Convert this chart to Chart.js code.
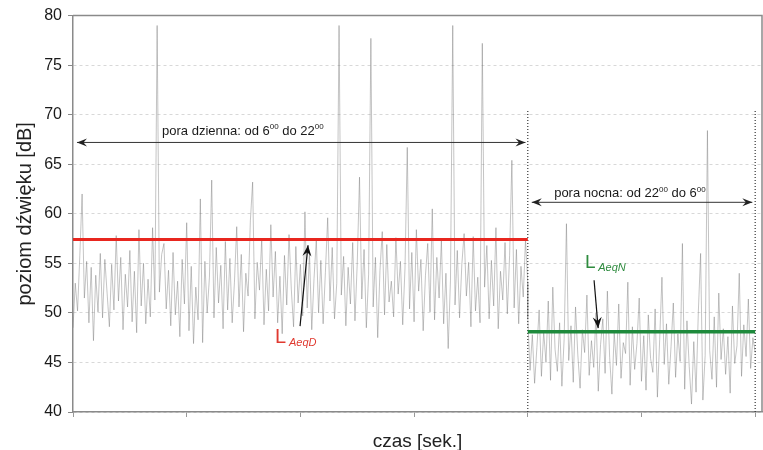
<!DOCTYPE html>
<html>
<head>
<meta charset="utf-8">
<script src="https://cdn.jsdelivr.net/npm/chart.js@4"></script>
<style>
html,body{margin:0;padding:0;background:#fff;}
#wrap{width:763px;height:450px;position:relative;}
</style>
</head>
<body>
<div id="wrap"><canvas id="c"></canvas></div>
<script>
// ---- data (dB) ----
const dayLevels = [
48.5,53.0,50.2,55.8,62.0,51.5,55.2,49.0,54.6,47.2,53.8,50.1,56.0,49.5,55.4,52.0,48.6,54.9,50.3,57.8,
51.2,55.6,48.3,53.9,50.6,56.3,49.1,54.2,48.0,58.4,50.7,55.0,48.9,53.4,49.6,58.6,51.3,79.0,52.1,55.9,
57.0,50.4,54.3,48.7,56.1,49.8,53.2,47.6,55.4,50.9,59.1,48.2,54.7,46.9,52.6,49.3,61.5,47.0,55.2,50.0,
53.6,63.4,49.5,56.6,51.0,54.8,48.4,57.2,50.3,55.5,49.0,53.1,58.7,50.6,55.9,48.1,54.0,51.7,59.3,63.2,
49.4,55.1,52.3,57.5,48.8,54.4,50.2,58.9,51.6,56.2,49.0,53.7,47.9,55.8,50.8,57.9,52.4,48.6,56.7,51.0,
54.9,49.7,60.2,50.5,56.0,48.3,53.5,57.4,50.0,55.3,48.9,54.1,59.6,51.2,56.6,49.4,53.0,79.0,51.8,55.7,
48.7,54.6,50.9,57.1,49.2,55.0,63.7,51.4,56.4,48.5,53.9,77.7,50.6,55.6,47.5,54.3,58.2,49.8,56.9,51.1,
53.2,49.6,57.6,51.9,55.2,48.8,54.5,66.7,50.4,56.1,49.1,58.4,52.2,55.4,48.2,53.8,57.0,50.1,60.5,49.3,
55.6,51.5,57.3,48.9,54.0,46.4,53.3,79.0,50.8,56.3,49.5,54.9,58.0,51.7,55.1,48.6,57.7,50.2,53.6,49.0,
77.2,52.6,56.8,49.4,55.3,50.7,58.6,48.4,54.2,51.3,57.1,49.9,55.8,65.4,50.5,56.4,48.9,54.7,51.6,57.4,53.0
];
const nightLevels = [
49.5,44.2,47.8,42.9,46.5,50.3,43.6,48.1,45.0,51.2,43.2,52.6,46.3,44.1,49.0,42.6,47.4,59.0,45.2,48.7,
43.0,50.6,45.8,42.4,48.3,46.0,51.8,43.7,47.2,44.5,50.0,42.1,46.8,49.4,43.9,52.2,45.5,41.8,48.0,44.7,
50.9,43.4,47.0,45.9,53.1,42.7,48.6,44.3,46.9,51.5,43.1,47.7,42.2,49.8,45.4,44.0,50.4,41.5,47.3,53.6,
44.8,48.9,42.8,46.6,51.0,43.5,47.9,45.1,57.0,42.3,49.2,44.6,40.8,47.1,42.0,50.1,56.0,41.2,45.7,68.4,
46.2,43.3,49.6,42.5,52.0,45.3,48.4,43.8,47.6,41.9,50.7,44.9,46.7,54.0,43.6,48.8,45.6,51.4,44.4,47.5,46.0
];
const LAeqD = 57.4;
const LAeqN = 48.1;
const dayStart = 0, dayEnd = 4, nightEnd = 6;
const xTicks = [0,1,2,3,4,5,6];
const yTicks = [40,45,50,55,60,65,70,75,80];
const dottedTop = 70.5;

const dayLabel = [['pora dzienna: od 6',false],['00',true],[' do 22',false],['00',true]];
const nightLabel = [['pora nocna: od 22',false],['00',true],[' do 6',false],['00',true]];
const yTitle = 'poziom dźwięku [dB]';
const xTitle = 'czas [sek.]';

// ---- build series ----
const dStep = (dayEnd - dayStart) / (dayLevels.length - 1);
const nStep = (nightEnd - dayEnd) / (nightLevels.length - 1);
const noise = dayLevels.map((v,i)=>({x: dayStart + i*dStep, y: v}))
  .concat(nightLevels.map((v,j)=>({x: dayEnd + j*nStep, y: v})));

const FONT = '"Liberation Sans", Arial, sans-serif';

function arrowHead(ctx, x1, y1, x2, y2, len, wid){
  const a = Math.atan2(y2-y1, x2-x1);
  ctx.save();
  ctx.translate(x2,y2); ctx.rotate(a);
  ctx.beginPath();
  ctx.moveTo(0,0);
  ctx.lineTo(-len, -wid/2);
  ctx.lineTo(-len*0.65, 0);
  ctx.lineTo(-len, wid/2);
  ctx.closePath();
  ctx.fill();
  ctx.restore();
}
function supText(ctx, parts, x, y, size, supSize){
  let cx = x;
  parts.forEach(([t, sup])=>{
    ctx.font = (sup?supSize:size) + 'px ' + FONT;
    ctx.fillText(t, cx, sup ? y - size*0.42 : y);
    cx += ctx.measureText(t).width;
  });
}

const annot = {
  id: 'annot',
  afterDatasetsDraw(chart){
    const {ctx, chartArea, scales:{x, y}} = chart;
    const X = v => x.getPixelForValue(v), Y = v => y.getPixelForValue(v);
    ctx.save();
    // plot frame
    ctx.strokeStyle = '#8a8a8a'; ctx.lineWidth = 1.5;
    ctx.beginPath();
    ctx.moveTo(chartArea.left, chartArea.top);
    ctx.lineTo(chartArea.right, chartArea.top);
    ctx.lineTo(chartArea.right, chartArea.bottom);
    ctx.stroke();

    ctx.strokeStyle = '#333'; ctx.fillStyle = '#222'; ctx.lineWidth = 1;
    // day double arrow
    let ay = Y(67.2), ax1 = X(0.035), ax2 = X(3.98);
    ctx.beginPath(); ctx.moveTo(ax1, ay); ctx.lineTo(ax2, ay); ctx.stroke();
    arrowHead(ctx, ax2, ay, ax1, ay, 10, 8);
    arrowHead(ctx, ax1, ay, ax2, ay, 10, 8);
    // night double arrow
    ay = Y(61.16); ax1 = X(4.035); ax2 = X(5.975);
    ctx.beginPath(); ctx.moveTo(ax1, ay); ctx.lineTo(ax2, ay); ctx.stroke();
    arrowHead(ctx, ax2, ay, ax1, ay, 10, 8);
    arrowHead(ctx, ax1, ay, ax2, ay, 10, 8);

    ctx.textBaseline = 'alphabetic'; ctx.textAlign = 'left';
    ctx.fillStyle = '#1a1a1a';
    supText(ctx, dayLabel, X(0.783), Y(68.0), 13, 8);
    supText(ctx, nightLabel, X(4.232), Y(61.66), 13, 8);

    // L AeqD
    ctx.fillStyle = '#e03a30';
    ctx.font = '20px ' + FONT;
    ctx.fillText('L', X(1.777), Y(46.95));
    ctx.font = 'italic 11px ' + FONT;
    ctx.fillText('AeqD', X(1.9), Y(46.65));
    // L AeqN
    ctx.fillStyle = '#2e8b3e';
    ctx.font = '19px ' + FONT;
    ctx.fillText('L', X(4.504), Y(54.5));
    ctx.font = 'italic 11px ' + FONT;
    ctx.fillText('AeqN', X(4.62), Y(54.2));

    // pointer arrows
    ctx.strokeStyle = '#111'; ctx.fillStyle = '#111'; ctx.lineWidth = 1.2;
    let p1 = [X(1.997), Y(48.66)], p2 = [X(2.067), Y(56.83)];
    ctx.beginPath(); ctx.moveTo(p1[0], p1[1]); ctx.lineTo(p2[0], p2[1]); ctx.stroke();
    arrowHead(ctx, p1[0], p1[1], p2[0], p2[1], 11, 9);
    p1 = [X(4.583), Y(53.3)]; p2 = [X(4.619), Y(48.46)];
    ctx.beginPath(); ctx.moveTo(p1[0], p1[1]); ctx.lineTo(p2[0], p2[1]); ctx.stroke();
    arrowHead(ctx, p1[0], p1[1], p2[0], p2[1], 11, 9);
    ctx.restore();
  }
};

new Chart(document.getElementById('c'), {
  type: 'line',
  data: {
    datasets: [
      { label: 'LAeqD', data: [{x: dayStart, y: LAeqD}, {x: dayEnd, y: LAeqD}],
        borderColor: '#e8261f', borderWidth: 3, pointRadius: 0, order: 1 },
      { label: 'LAeqN', data: [{x: dayEnd, y: LAeqN}, {x: nightEnd, y: LAeqN}],
        borderColor: '#1e8a3c', borderWidth: 3.5, pointRadius: 0, order: 1 },
      { label: 'div1', data: [{x: dayEnd, y: 40}, {x: dayEnd, y: dottedTop}],
        borderColor: '#333', borderWidth: 1.2, borderDash: [1,2], pointRadius: 0, order: 2 },
      { label: 'div2', data: [{x: nightEnd, y: 40}, {x: nightEnd, y: dottedTop}],
        borderColor: '#333', borderWidth: 1.2, borderDash: [1,2], pointRadius: 0, order: 2 },
      { label: 'poziom', data: noise, borderColor: 'rgba(120,120,120,0.55)',
        borderWidth: 0.8, pointRadius: 0, tension: 0, order: 3 }
    ]
  },
  options: {
    responsive: true, maintainAspectRatio: false, animation: false,
    layout: { padding: { left: 13, top: 15, right: 1, bottom: 0 } },
    plugins: { legend: { display: false }, tooltip: { enabled: false } },
    scales: {
      x: {
        type: 'linear', min: 0, max: 6.06,
        afterBuildTicks: s => { s.ticks = xTicks.map(v => ({value: v})); },
        afterFit: s => { s.height = 38; },
        ticks: { callback: () => '', font: { size: 10 } },
        grid: { drawOnChartArea: false, tickLength: 5, tickColor: '#999', tickWidth: 1 },
        border: { color: '#8a8a8a', width: 1.5 },
        title: { display: true, text: xTitle, color: '#222', padding: { top: 0, bottom: -3 },
                 font: { family: FONT, size: 19 } }
      },
      y: {
        type: 'linear', min: 40, max: 80,
        afterBuildTicks: s => { s.ticks = yTicks.map(v => ({value: v})); },
        afterFit: s => { s.width = 60; },
        ticks: { color: '#1a1a1a', padding: 6, font: { family: FONT, size: 16 } },
        grid: { color: '#d8d8d8', lineWidth: 1, tickLength: 5, tickColor: '#888' },
        border: { color: '#8a8a8a', width: 1.5, dash: [3,3] },
        title: { display: true, text: yTitle, color: '#222', padding: 0,
                 font: { family: FONT, size: 20 } }
      }
    }
  },
  plugins: [annot]
});
</script>
</body>
</html>
